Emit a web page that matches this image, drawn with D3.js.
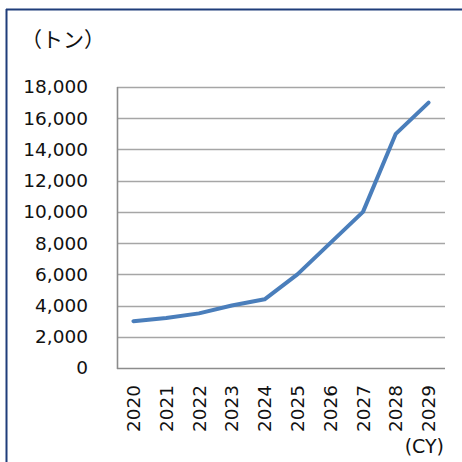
<!DOCTYPE html>
<html>
<head>
<meta charset="utf-8">
<script src="https://cdn.jsdelivr.net/npm/d3@7"></script>
<style>
  html, body { margin: 0; padding: 0; background: #fff; }
  svg { display: block; }
  text { font-family: "DejaVu Sans", "Noto Sans", sans-serif; fill: #111; }
</style>
</head>
<body>
<svg id="chart" width="462" height="462"></svg>
<script>
// Annual volume (tons) by calendar year
const years = ["2020", "2021", "2022", "2023", "2024", "2025", "2026", "2027", "2028", "2029"];
const tons = [3000, 3200, 3500, 4000, 4400, 6000, 8000, 10000, 15000, 17000];
const yTicks = [0, 2000, 4000, 6000, 8000, 10000, 12000, 14000, 16000, 18000];
const unitLabel = "（トン）";
const periodLabel = "(CY)";

const svg = d3.select("#chart");
const W = 462, H = 462;
const plot = { left: 117, right: 445, top: 87, bottom: 368 };

svg.append("rect").attr("width", W).attr("height", H).attr("fill", "#fff");

// frame: top and left edges only
svg.append("line").attr("x1", 6).attr("x2", W).attr("y1", 9.5).attr("y2", 9.5)
  .attr("stroke", "#1f3d7a").attr("stroke-width", 2);
svg.append("line").attr("x1", 6.5).attr("x2", 6.5).attr("y1", 9).attr("y2", H)
  .attr("stroke", "#1f3d7a").attr("stroke-width", 2);

const x = d3.scaleBand().domain(years).range([plot.left, plot.right]).padding(0);
const y = d3.scaleLinear().domain([0, 18000]).range([plot.bottom, plot.top]);

// horizontal gridlines
svg.append("g").selectAll("line").data(yTicks.filter(d => d > 0)).join("line")
  .attr("x1", plot.left).attr("x2", plot.right)
  .attr("y1", d => Math.round(y(d)) + 0.5).attr("y2", d => Math.round(y(d)) + 0.5)
  .attr("stroke", "#a6a6a6").attr("stroke-width", 1.3);

// y axis
const yAxis = d3.axisLeft(y).tickValues(yTicks).tickFormat(d3.format(",")).tickSize(0).tickPadding(29);
const gy = svg.append("g").attr("transform", `translate(${plot.left},0)`).call(yAxis);
gy.select(".domain").remove();
gy.selectAll("text").style("font-size", "18.5px").style("font-family", "DejaVu Sans").style("fill", "#111");

// x axis
const xAxis = d3.axisBottom(x).tickSize(0).tickPadding(0);
const gx = svg.append("g").attr("transform", `translate(0,${plot.bottom})`).call(xAxis);
gx.select(".domain").remove();
gx.selectAll("text")
  .style("font-size", "18.5px").style("font-family", "DejaVu Sans").style("fill", "#111")
  .attr("text-anchor", "end")
  .attr("dy", "0.36em")
  .attr("y", 0)
  .attr("transform", "translate(0,17) rotate(-90)");

// axis lines
svg.append("line").attr("x1", plot.left + 0.5).attr("x2", plot.left + 0.5)
  .attr("y1", plot.top).attr("y2", plot.bottom + 1)
  .attr("stroke", "#8c8c8c").attr("stroke-width", 1.6);
svg.append("line").attr("x1", plot.left).attr("x2", plot.right)
  .attr("y1", plot.bottom + 0.5).attr("y2", plot.bottom + 0.5)
  .attr("stroke", "#8c8c8c").attr("stroke-width", 1.6);

// series line
const line = d3.line()
  .x((d, i) => x(years[i]) + x.bandwidth() / 2)
  .y(d => y(d));
svg.append("path").datum(tons)
  .attr("d", line)
  .attr("fill", "none")
  .attr("stroke", "#4a7ebb")
  .attr("stroke-width", 4)
  .attr("stroke-linejoin", "round")
  .attr("stroke-linecap", "round");

// unit label and period label
svg.append("text").attr("x", 21).attr("y", 47)
  .style("font-family", "Noto Sans CJK JP").style("font-size", "21px").text(unitLabel);
svg.append("text").attr("x", 444).attr("y", 453).attr("text-anchor", "end")
  .style("font-size", "19px").text(periodLabel);
</script>
</body>
</html>
